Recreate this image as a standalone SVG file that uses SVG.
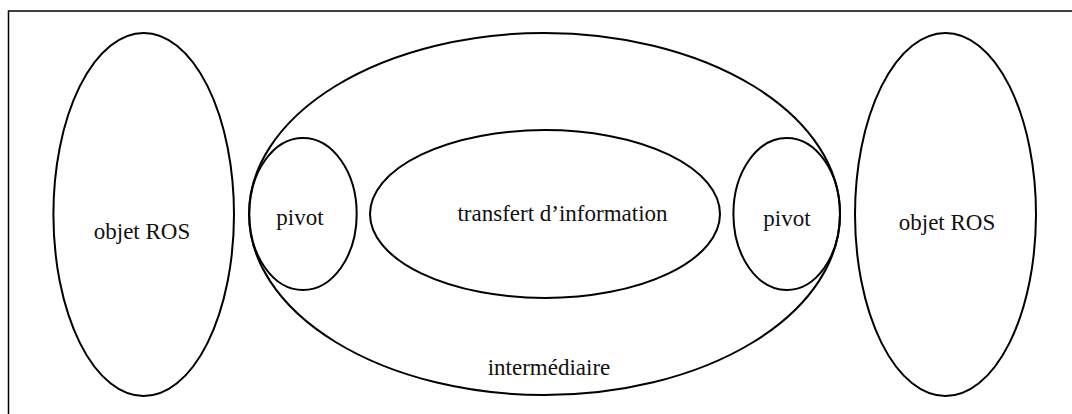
<svg xmlns="http://www.w3.org/2000/svg" width="1072" height="414" viewBox="0 0 1072 414">
  <style>
    .frame { fill: none; stroke: #000; stroke-width: 1.5; }
    .shape { fill: none; stroke: #000; stroke-width: 2; }
    .label { font-family: "Liberation Serif", "Times New Roman", serif; font-size: 23px; fill: #111; text-anchor: middle; }
  </style>
  <rect width="1072" height="414" fill="#fff"/>
  <!-- outer frame (open at right and bottom edges) -->
  <rect class="frame" x="8.5" y="11" width="1080" height="420"/>

  <g id="objet-ros-left">
    <ellipse class="shape" cx="143.7" cy="214.5" rx="90.3" ry="181.5"/>
    <text class="label" x="142" y="238.5">objet ROS</text>
  </g>

  <g id="intermediaire">
    <ellipse class="shape" cx="544.5" cy="214" rx="295.5" ry="181"/>
    <text class="label" x="549" y="375">intermédiaire</text>
  </g>

  <g id="pivot-left">
    <ellipse class="shape" cx="303" cy="214" rx="53.7" ry="76"/>
    <text class="label" x="300" y="225">pivot</text>
  </g>

  <g id="transfert">
    <ellipse class="shape" cx="545" cy="214" rx="175" ry="84"/>
    <text class="label" x="562.5" y="220.5">transfert d’information</text>
  </g>

  <g id="pivot-right">
    <ellipse class="shape" cx="786.7" cy="214" rx="53.3" ry="76"/>
    <text class="label" x="787" y="226">pivot</text>
  </g>

  <g id="objet-ros-right">
    <ellipse class="shape" cx="945.5" cy="214.5" rx="90.5" ry="181.5"/>
    <text class="label" x="947" y="230">objet ROS</text>
  </g>

  <g id="connectors"/>
</svg>
